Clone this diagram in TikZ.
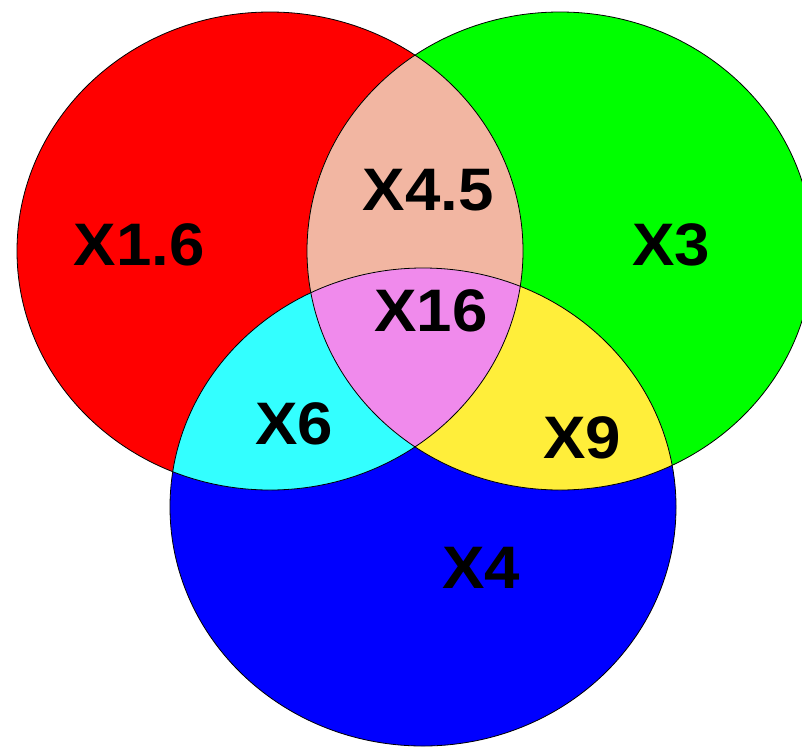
\documentclass[tikz,border=0pt]{standalone}
\usepackage{fontspec}
\setsansfont{Liberation Sans}[FakeStretch=1.06]
\definecolor{vennred}{HTML}{FF0000}
\definecolor{venngreen}{HTML}{00FF00}
\definecolor{vennblue}{HTML}{0000FF}
\definecolor{vennsalmon}{HTML}{F2B6A2}
\definecolor{venncyan}{HTML}{33FFFF}
\definecolor{vennyellow}{HTML}{FFEE3A}
\definecolor{vennpink}{HTML}{F08AEC}

\begin{document}
\begin{tikzpicture}[x=1pt, y=-1pt,
    venn/.style={draw=black, line width=0.8pt},
    lbl/.style={font=\sffamily\bfseries\fontsize{60}{60}\selectfont, inner sep=0pt}]
  \useasboundingbox (0,0) rectangle (802,747);
  \def\redset{(270,251) ellipse [x radius=253pt, y radius=239pt]}
  \def\greenset{(560,251) ellipse [x radius=253pt, y radius=239pt]}
  \def\blueset{(423,507) ellipse [x radius=253pt, y radius=239pt]}
  % single sets
  \fill[vennred] \redset;
  \fill[venngreen] \greenset;
  \fill[vennblue] \blueset;
  % pairwise overlaps
  \begin{scope}
    \clip \redset;
    \fill[vennsalmon] \greenset;
    \fill[venncyan] \blueset;
  \end{scope}
  \begin{scope}
    \clip \greenset;
    \fill[vennyellow] \blueset;
  \end{scope}
  % all three
  \begin{scope}
    \clip \redset;
    \clip \greenset;
    \fill[vennpink] \blueset;
  \end{scope}
  \draw[venn] \redset;
  \draw[venn] \greenset;
  \draw[venn] \blueset;
  % labels
  \node[lbl] (r) at (139,245) {X1.6};
  \node[lbl] (g) at (671,245) {X3};
  \node[lbl] (b) at (481,568) {X4};
  \node[lbl] (rg) at (428,190) {X4.5};
  \node[lbl] (rb) at (294,424) {X6};
  \node[lbl] (gb) at (582,438) {X9};
  \node[lbl] (rgb) at (431,311) {X16};
\end{tikzpicture}
\end{document}
